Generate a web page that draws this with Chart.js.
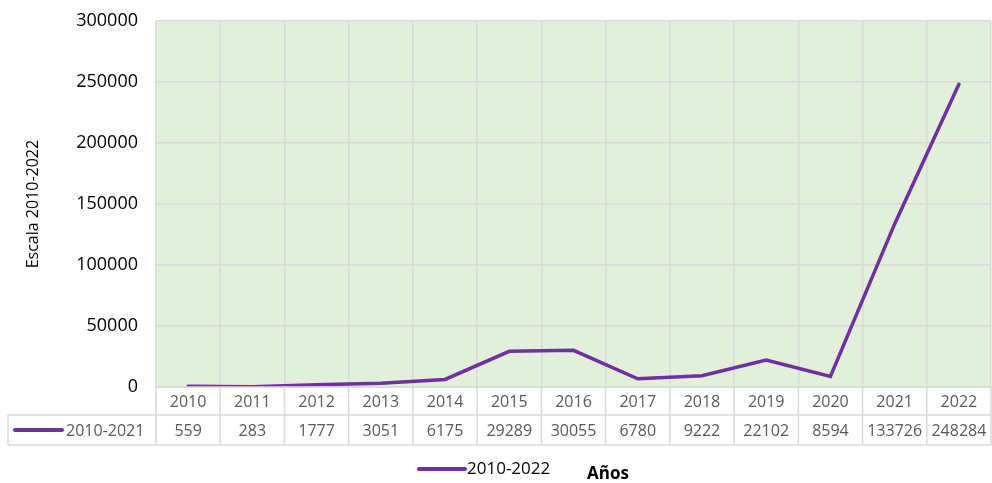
<!DOCTYPE html>
<html lang="es">
<head>
<meta charset="UTF-8" />
<title>Escala 2010-2022</title>
<script src="https://cdn.jsdelivr.net/npm/chart.js@4.4.0/dist/chart.umd.min.js"></script>
<style>
  html, body { margin:0; padding:0; background:#ffffff; }
  #wrap { width:992px; height:483px; }
</style>
</head>
<body>
<div id="wrap"><canvas id="chart" width="992" height="483"></canvas></div>
<script>
// data
const years = ['2010','2011','2012','2013','2014','2015','2016','2017','2018','2019','2020','2021','2022'];
const values = [559, 283, 1777, 3051, 6175, 29289, 30055, 6780, 9222, 22102, 8594, 133726, 248284];
const tableLabel = '2010-2021';
const legendLabel = '2010-2022';
const xTitle = 'Años';
const yTitle = 'Escala 2010-2022';

const purple = '#7030a0';
const gridCol = '#d9d9d9';
const font = '"Open Sans", sans-serif';

// green plot background + data table + legend
const tablePlugin = {
  id: 'tablePlugin',
  beforeDraw(chart) {
    const a = chart.chartArea, c = chart.ctx;
    c.save();
    c.fillStyle = '#e2efda';
    c.fillRect(a.left, a.top, a.right - a.left, a.bottom - a.top);
    c.restore();
  },
  afterDraw(chart) {
    const a = chart.chartArea, c = chart.ctx;
    const xs = chart.scales.x;
    const row1 = a.bottom, row2 = a.bottom + 28, row3 = a.bottom + 58;
    const half = (xs.getPixelForValue(1) - xs.getPixelForValue(0)) / 2;
    c.save();
    c.strokeStyle = gridCol;
    c.lineWidth = 1.5;
    c.beginPath();
    // horizontal lines
    c.moveTo(a.left, row1); c.lineTo(a.right, row1);
    c.moveTo(8, row2); c.lineTo(a.right, row2);
    c.moveTo(8, row3); c.lineTo(a.right, row3);
    c.moveTo(8, row2); c.lineTo(8, row3);
    // vertical lines
    for (let i = 0; i <= years.length; i++) {
      const x = i < years.length ? xs.getPixelForValue(i) - half : xs.getPixelForValue(i - 1) + half;
      c.moveTo(x, row1); c.lineTo(x, row3);
    }
    c.stroke();

    c.fillStyle = '#595959';
    c.font = '16px ' + font;
    c.textAlign = 'center';
    c.textBaseline = 'middle';
    years.forEach((y, i) => {
      const x = xs.getPixelForValue(i);
      c.fillText(y, x, (row1 + row2) / 2 + 1);
      c.fillText(String(values[i]), x, (row2 + row3) / 2 + 1);
    });
    // legend key in table
    c.strokeStyle = purple;
    c.lineWidth = 4;
    c.lineCap = 'round';
    c.beginPath();
    c.moveTo(15, (row2 + row3) / 2); c.lineTo(62, (row2 + row3) / 2);
    c.stroke();
    c.textAlign = 'left';
    c.fillText(tableLabel, 66, (row2 + row3) / 2 + 1);

    // bottom legend
    const ly = 469;
    c.beginPath();
    c.moveTo(419, ly); c.lineTo(465, ly);
    c.stroke();
    c.fillStyle = '#000000';
    c.font = '17px ' + font;
    c.fillText(legendLabel, 467, ly);
    c.font = 'bold 17px ' + font;
    c.fillText(xTitle, 587, ly + 5);
    c.restore();
  }
};

new Chart(document.getElementById('chart'), {
  type: 'line',
  data: {
    labels: years,
    datasets: [{
      label: legendLabel,
      data: values,
      borderColor: purple,
      backgroundColor: purple,
      borderWidth: 3.5,
      pointRadius: 0,
      tension: 0,
      borderCapStyle: 'round'
    }]
  },
  options: {
    responsive: false,
    animation: false,
    layout: { padding: { top: 0, right: 1, bottom: 96, left: 0 } },
    plugins: {
      legend: { display: false },
      tooltip: { enabled: false }
    },
    scales: {
      x: {
        offset: true,
        grid: { offset: true, color: gridCol, lineWidth: 1.5, drawTicks: false },
        border: { display: false },
        ticks: { display: false }
      },
      y: {
        min: 0,
        max: 300000,
        ticks: {
          stepSize: 50000,
          color: '#000000',
          font: { family: font, size: 18, lineHeight: 0.35 },
          padding: 18,
          callback: (v) => String(v)
        },
        grid: { color: gridCol, lineWidth: 1.5, drawTicks: false },
        border: { display: false },
        title: {
          display: true,
          text: yTitle,
          color: '#000000',
          font: { family: font, size: 16 },
          padding: { top: 24, bottom: 0 }
        },
        afterFit(scale) { scale.width = 156; }
      }
    }
  },
  plugins: [tablePlugin]
});
</script>
</body>
</html>
